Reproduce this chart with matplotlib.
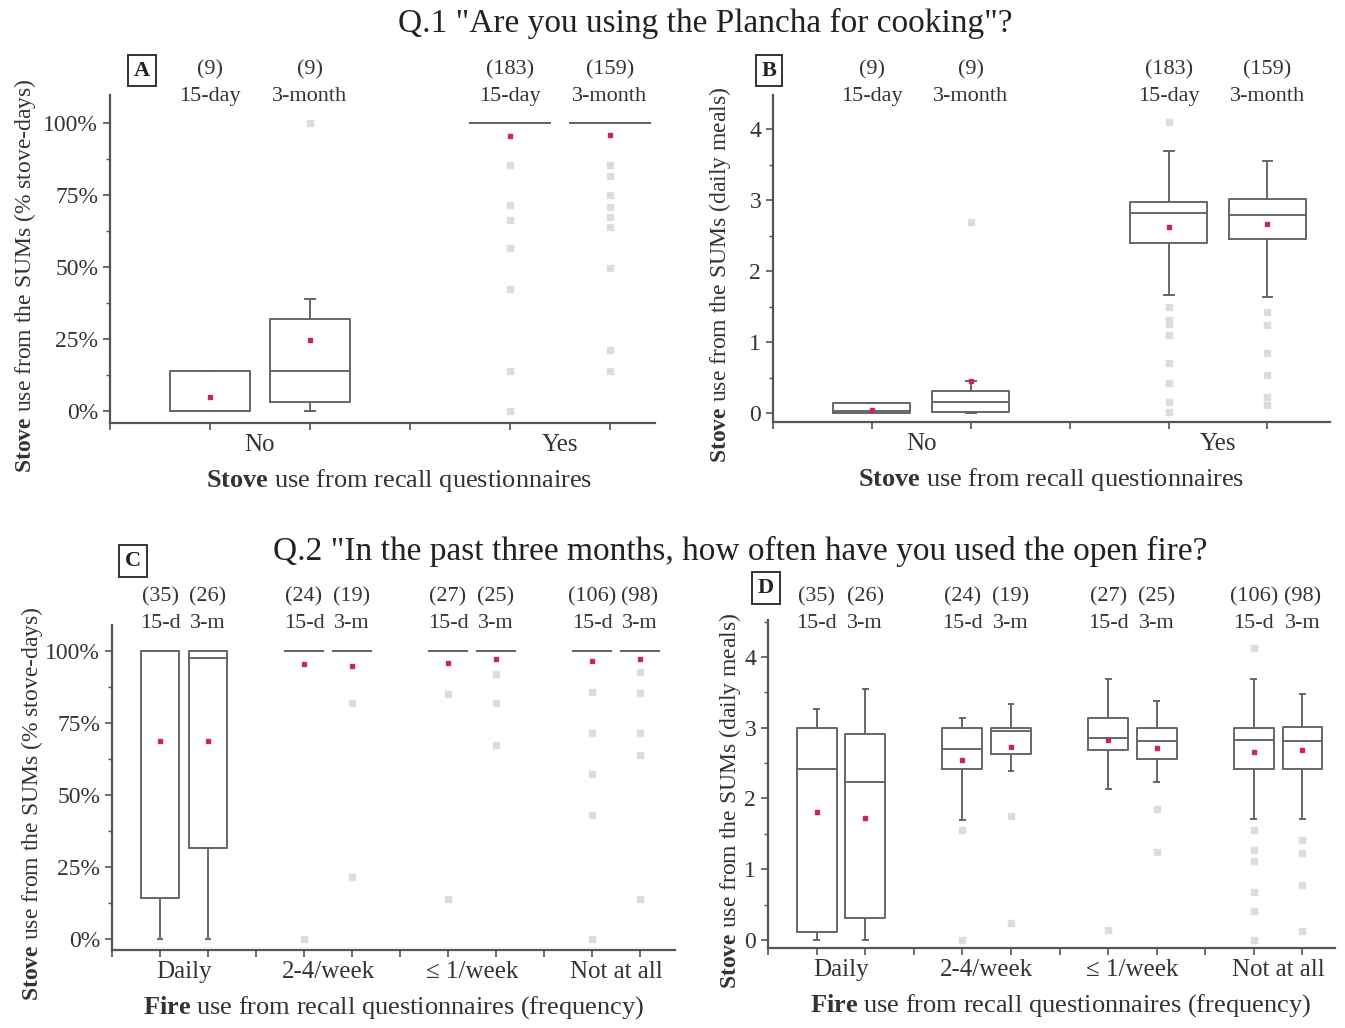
import matplotlib
matplotlib.use("Agg")
import matplotlib.pyplot as plt
from matplotlib.ticker import MultipleLocator, FuncFormatter
import matplotlib.transforms as mtrans

plt.rcParams['font.family'] = ['Liberation Serif', 'DejaVu Serif']
plt.rcParams['mathtext.fontset'] = 'custom'
plt.rcParams['mathtext.rm'] = 'Liberation Serif'
plt.rcParams['mathtext.bf'] = 'Liberation Serif:bold'

# ---- panel A: % stove-days, Q.1
a_pos = [1, 2, 4, 5]
a_n = [9, 9, 183, 159]
a_sub = ['15-day', '3-month', '15-day', '3-month']
a_q1 = [0, 3.1, 100, 100]
a_med = [0, 13.9, 100, 100]
a_q3 = [13.9, 32, 100, 100]
a_lo = [0, 0, 100, 100]
a_hi = [13.9, 38.9, 100, 100]
a_mean = [5, 24.7, 95.5, 96]
a_fliers = [[], [100],
            [85.5, 71.6, 66.4, 56.5, 42.3, 13.9, 0],
            [85.5, 81.5, 75, 71, 67.5, 64, 49.6, 21.2, 13.9]]

# ---- panel B: daily meals, Q.1
b_n = a_n
b_q1 = [0, 0.02, 2.40, 2.45]
b_med = [0.03, 0.16, 2.82, 2.79]
b_q3 = [0.14, 0.31, 2.98, 3.01]
b_lo = [0, 0, 1.66, 1.64]
b_hi = [0.14, 0.45, 3.69, 3.55]
b_mean = [0.04, 0.45, 2.62, 2.66]
b_fliers = [[], [2.69],
            [4.10, 1.5, 1.31, 1.26, 1.1, 0.7, 0.42, 0.16, 0.02],
            [1.43, 1.24, 0.84, 0.54, 0.23, 0.11]]

groups_q1 = ['No', 'Yes']

# ---- panel C: % stove-days, Q.2
c_pos = [1, 2, 4, 5, 7, 8, 10, 11]
c_n = [35, 26, 24, 19, 27, 25, 106, 98]
c_sub = ['15-d', '3-m'] * 4
c_q1 = [14.1, 31.7, 100, 100, 100, 100, 100, 100]
c_med = [100, 97.7, 100, 100, 100, 100, 100, 100]
c_q3 = [100, 100, 100, 100, 100, 100, 100, 100]
c_lo = [0, 0, 100, 100, 100, 100, 100, 100]
c_hi = [100, 100, 100, 100, 100, 100, 100, 100]
c_mean = [68.9, 68.6, 95.6, 94.7, 96, 97.2, 96.4, 97.1]
c_fliers = [[], [], [0], [81.8, 21.6],
            [85, 14], [92.2, 81.8, 67.4],
            [85.9, 71.5, 57.3, 43.1, 0], [92.8, 85.5, 71.5, 64, 14]]

# ---- panel D: daily meals, Q.2
d_n = c_n
d_q1 = [0.12, 0.31, 2.41, 2.63, 2.68, 2.56, 2.41, 2.41]
d_med = [2.42, 2.23, 2.70, 2.96, 2.85, 2.81, 2.82, 2.81]
d_q3 = [2.99, 2.91, 2.99, 2.99, 3.13, 2.99, 2.99, 3.01]
d_lo = [0, 0, 1.70, 2.39, 2.14, 2.23, 1.71, 1.71]
d_hi = [3.26, 3.55, 3.13, 3.34, 3.69, 3.38, 3.69, 3.48]
d_mean = [1.81, 1.73, 2.55, 2.72, 2.83, 2.71, 2.65, 2.68]
d_fliers = [[], [], [1.56, 0], [1.75, 0.24],
            [0.14], [1.85, 1.24],
            [4.13, 1.56, 1.27, 1.12, 0.68, 0.41, 0],
            [1.42, 1.23, 0.78, 0.13]]

groups_q2 = ['Daily', '2-4/week', '\u2264 1/week', 'Not at all']

box_col = '#666666'
axis_col = '#555555'
text_col = '#333333'
mean_col = '#c8285a'
flier_col = '#dcdcdc'


def make_stats(q1, med, q3, lo, hi, mean, fliers):
    stats = []
    for i in range(len(q1)):
        stats.append(dict(q1=q1[i], med=med[i], q3=q3[i], whislo=lo[i],
                          whishi=hi[i], mean=mean[i], fliers=fliers[i]))
    return stats


def draw_panel(rect, stats, pos, width, xlim, ylim, groups, centers,
               ns, subs, ylabel, xlabel, n_y, s_y):
    ax = fig.add_axes(rect)
    ax.bxp(stats, positions=pos, widths=width, showmeans=True,
           showfliers=True, capwidths=0.1,
           boxprops=dict(color=box_col, linewidth=1.4),
           medianprops=dict(color=box_col, linewidth=1.4),
           whiskerprops=dict(color=box_col, linewidth=1.4),
           capprops=dict(color=box_col, linewidth=1.4),
           meanprops=dict(marker='s', markersize=3, markerfacecolor=mean_col,
                          markeredgecolor=mean_col),
           flierprops=dict(marker='s', markersize=4, markerfacecolor=flier_col,
                           markeredgecolor=flier_col))
    ax.set_xlim(*xlim)
    ax.set_ylim(*ylim)
    for s in ['top', 'right']:
        ax.spines[s].set_visible(False)
    for s in ['left', 'bottom']:
        ax.spines[s].set_color(axis_col)
        ax.spines[s].set_linewidth(1.6)
    ax.set_xticks(range(0, int(xlim[1]) + 1))
    ax.set_xticklabels([])
    ax.set_xticks(centers, groups, minor=True)
    ax.tick_params(axis='x', which='major', direction='out', length=5,
                   width=1.2, color=axis_col)
    ax.tick_params(axis='x', which='minor', length=0, pad=8, labelsize=18,
                   labelcolor=text_col)
    ax.tick_params(axis='y', which='major', direction='out', length=5,
                   width=1.2, color=axis_col, labelsize=17, labelcolor=text_col)
    ax.tick_params(axis='y', which='minor', direction='out', length=3,
                   width=1.0, color=axis_col)
    ax.set_ylabel(ylabel, fontsize=17, color=text_col)
    ax.set_xlabel(xlabel, fontsize=19, labelpad=8, color=text_col)
    ax.yaxis.label.set_y(0.45)
    tr = mtrans.blended_transform_factory(ax.transData, ax.transAxes)
    for p, n, s in zip(pos, ns, subs):
        ax.text(p, n_y, '(%d)' % n, transform=tr, ha='center', va='center',
                fontsize=16, color=text_col)
        ax.text(p, s_y, s, transform=tr, ha='center', va='center',
                fontsize=16, color=text_col)
    return ax


fig = plt.figure(figsize=(13.45, 10.28), dpi=100)

pct_fmt = FuncFormatter(lambda v, p: '%d%%' % v)
lab_pct = r'$\mathbf{Stove}$ use from the SUMs (% stove-days)'
lab_meal = r'$\mathbf{Stove}$ use from the SUMs (daily meals)'
lab_q1 = r'$\mathbf{Stove}$ use from recall questionnaires'
lab_q2 = r'$\mathbf{Fire}$ use from recall questionnaires (frequency)'

axA = draw_panel([0.0818, 0.5885, 0.405, 0.319],
                 make_stats(a_q1, a_med, a_q3, a_lo, a_hi, a_mean, a_fliers),
                 a_pos, 0.8, (0, 5.45), (-4.2, 109.7), groups_q1, [1.5, 4.5],
                 a_n, a_sub, lab_pct, lab_q1, 1.076, 0.997)
axA.yaxis.set_major_locator(MultipleLocator(25))
axA.yaxis.set_minor_locator(MultipleLocator(12.5))
axA.yaxis.set_major_formatter(pct_fmt)
axA.yaxis.labelpad = 4
axA.xaxis.label.set_x(0.53)

axB = draw_panel([0.5747, 0.5895, 0.414, 0.318],
                 make_stats(b_q1, b_med, b_q3, b_lo, b_hi, b_mean, b_fliers),
                 a_pos, 0.78, (0, 5.63), (-0.127, 4.48), groups_q1, [1.5, 4.5],
                 b_n, a_sub, lab_meal, lab_q1, 1.076, 0.997)
axB.yaxis.set_major_locator(MultipleLocator(1))
axB.yaxis.set_minor_locator(MultipleLocator(0.5))
axB.yaxis.labelpad = 12

axC = draw_panel([0.0833, 0.0759, 0.4186, 0.316],
                 make_stats(c_q1, c_med, c_q3, c_lo, c_hi, c_mean, c_fliers),
                 c_pos, 0.8, (0, 11.73), (-3.8, 109), groups_q2,
                 [1.5, 4.5, 7.5, 10.5], c_n, c_sub, lab_pct, lab_q2, 1.086, 1.006)
axC.yaxis.set_major_locator(MultipleLocator(25))
axC.yaxis.set_minor_locator(MultipleLocator(12.5))
axC.yaxis.set_major_formatter(pct_fmt)
axC.yaxis.labelpad = 0

axD = draw_panel([0.571, 0.0778, 0.4216, 0.319],
                 make_stats(d_q1, d_med, d_q3, d_lo, d_hi, d_mean, d_fliers),
                 c_pos, 0.82, (0, 11.67), (-0.113, 4.52), groups_q2,
                 [1.5, 4.5, 7.5, 10.5], d_n, c_sub, lab_meal, lab_q2, 1.07, 0.99)
axD.yaxis.set_major_locator(MultipleLocator(1))
axD.yaxis.set_minor_locator(MultipleLocator(0.5))
axD.yaxis.labelpad = 1
axD.xaxis.label.set_x(0.515)

fig.text(0.524, 0.977, 'Q.1 "Are you using the Plancha for cooking"?',
         ha='center', va='center', fontsize=24, color='#222222')
fig.text(0.55, 0.464, 'Q.2 "In the past three months, how often have you used the open fire?',
         ha='center', va='center', fontsize=24, color='#222222')

box = dict(boxstyle='square,pad=0.25', facecolor='white', edgecolor='#333333',
           linewidth=1.4)
for x, y, t in [(0.1056, 0.931, 'A'), (0.5717, 0.931, 'B'),
                (0.0989, 0.4543, 'C'), (0.5695, 0.428, 'D')]:
    fig.text(x, y, t, ha='center', va='center', fontsize=16,
             fontweight='bold', bbox=box, color='#222222')

fig.savefig('out.png', dpi=100)
